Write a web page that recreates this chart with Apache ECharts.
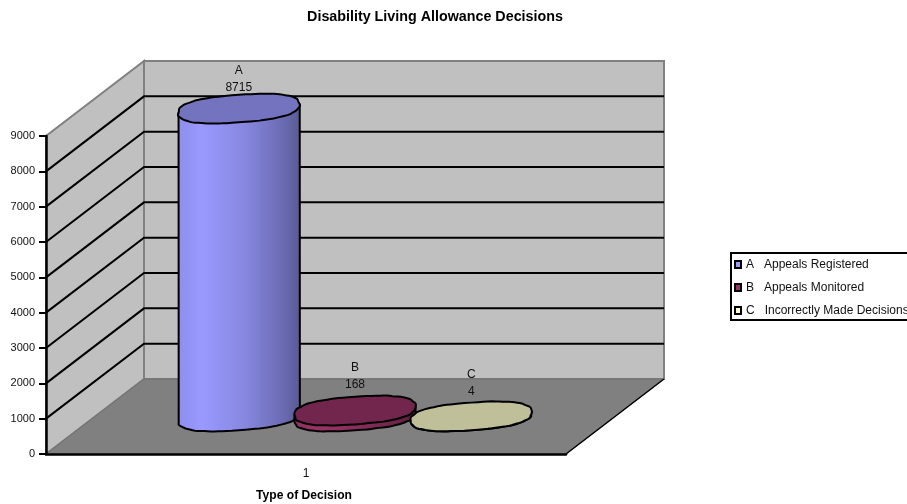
<!DOCTYPE html>
<html>
<head>
<meta charset="utf-8">
<style>html,body{margin:0;padding:0;background:#fff}#chart{width:907px;height:504px}</style>
<script src="https://cdn.jsdelivr.net/npm/echarts@6/dist/echarts.min.js"></script>
</head>
<body>
<div id="chart"></div>
<script>
// Decision counts and labels
const categories = ['1'];
const letters = ['A', 'B', 'C'];
const decisionTypes = ['Appeals Registered', 'Appeals Monitored', 'Incorrectly Made Decisions'];
const decisionCounts = [8715, 168, 4];
const yTicks = [0, 1000, 2000, 3000, 4000, 5000, 6000, 7000, 8000, 9000];

// Base colours of the three cylinders
const baseColors = [[153, 153, 255], [153, 51, 102], [255, 255, 204]];
// Oblique projection of the chart box
const DEPTH_X = 98, DEPTH_Y = -75;
const FONT = '"Liberation Sans", Arial, sans-serif';

const shade = (rgb, f) => `rgb(${rgb.map(c => Math.round(c * f)).join(',')})`;

function wallsItem(params, api) {
  const o = api.coord([0, 0]);
  const w = api.size([1, 0])[0];
  const x0 = o[0] - w / 2, y0 = o[1];
  const yTop = api.coord([0, yTicks[yTicks.length - 1]])[1];
  const poly = (points, fill, stroke, lw) => ({
    type: 'polygon', shape: { points }, style: { fill, stroke, lineWidth: lw }
  });
  const bx = x0 + DEPTH_X, by = y0 + DEPTH_Y, bt = yTop + DEPTH_Y;
  return {
    type: 'group',
    children: [
      poly([[bx, bt], [bx + w, bt], [bx + w, by], [bx, by]], '#c0c0c0', '#808080', 2),
      poly([[x0, y0], [bx, by], [bx, bt], [x0, yTop]], '#c0c0c0', '#808080', 2),
      poly([[x0, y0], [x0 + w, y0], [bx + w, by], [bx, by]], '#808080', '#707070', 1),
      { type: 'line', shape: { x1: x0 + w, y1: y0, x2: bx + w, y2: by }, style: { stroke: '#000', lineWidth: 1.5 } }
    ]
  };
}

function gridLineItem(params, api) {
  const p = api.coord([0, api.value(1)]);
  const w = api.size([1, 0])[0];
  const x0 = p[0] - w / 2, y = p[1];
  const bx = x0 + DEPTH_X, by = y + DEPTH_Y;
  return {
    type: 'polyline',
    shape: { points: [[x0, y], [bx, by], [bx + w, by]] },
    style: { fill: null, stroke: '#000', lineWidth: 2 }
  };
}

// Faceted, slightly uneven and rather full ellipse outline used for the cylinder caps and bases
function rim(cx, cy, a, b, k, seed) {
  const full = v => Math.sign(v) * Math.pow(Math.abs(v), 0.8);
  return t => {
    const r = 1 + 0.006 * Math.sin(11 * t + seed) + 0.005 * Math.sin(19 * t + seed * 2);
    const x = a * r * full(Math.cos(t));
    return [cx + x, cy + b * r * full(Math.sin(t)) + k * x];
  };
}

function cylinderItem(index, labelLift) {
  return (params, api) => {
    const value = api.value(1);
    const band = api.size([1, 0])[0];
    const offset = (index - 1) * band * 0.2235;
    const a = band * 0.1165, b = band * 0.0265, k = -0.07;
    const depthX = DEPTH_X / 2, depthY = DEPTH_Y / 2;
    const base = api.coord([0, 0]);
    const top = api.coord([0, value]);
    const cx = base[0] + offset + depthX;
    const baseY = base[1] + depthY, topY = top[1] + depthY;
    const seed = index * 1.7 + 0.4;
    const topRim = rim(cx, topY, a, b, k, seed);
    const baseRim = rim(cx, baseY, a, b, k, seed + 0.9);
    const steps = 96;
    const capPoints = [];
    for (let i = 0; i < steps; i++) capPoints.push(topRim(i / steps * 2 * Math.PI));
    const sidePoints = [topRim(Math.PI)];
    for (let i = 0; i <= steps / 2; i++) sidePoints.push(baseRim(Math.PI - i / (steps / 2) * Math.PI));
    sidePoints.push(topRim(0));
    const rgb = baseColors[index];
    const sideFill = {
      type: 'linear', x: 0, y: 0, x2: 1, y2: 0,
      colorStops: [
        { offset: 0, color: shade(rgb, 0.93) },
        { offset: 0.2, color: shade(rgb, 1) },
        { offset: 0.55, color: shade(rgb, 0.88) },
        { offset: 0.85, color: shade(rgb, 0.7) },
        { offset: 1, color: shade(rgb, 0.58) }
      ]
    };
    const label = (text, dy) => ({
      type: 'text',
      style: {
        x: cx, y: topY - labelLift + dy, text, fill: '#111', font: '12px ' + FONT,
        textAlign: 'center', textVerticalAlign: 'middle'
      }
    });
    return {
      type: 'group',
      children: [
        { type: 'polygon', shape: { points: sidePoints }, style: { fill: sideFill, stroke: '#000', lineWidth: 2, lineJoin: 'round' } },
        { type: 'polygon', shape: { points: capPoints }, style: { fill: shade(rgb, 0.75), stroke: '#000', lineWidth: 2, lineJoin: 'round' } },
        label(letters[index], -17),
        label(String(value), 0)
      ]
    };
  };
}

// Vertical distance from each cap centre to its value label
const labelLifts = [21, 26, 25];

const seriesNames = letters.map((l, i) => `${l}   ${decisionTypes[i]}`);

const chart = echarts.init(document.getElementById('chart'), null, { renderer: 'canvas' });
chart.setOption({
  animation: false,
  backgroundColor: '#fff',
  textStyle: { fontFamily: FONT },
  title: {
    text: 'Disability Living Allowance Decisions',
    left: 430, top: 5, textAlign: 'center',
    textStyle: { fontSize: 14.3, fontWeight: 'bold', color: '#000', fontFamily: FONT }
  },
  grid: { left: 46, top: 136, width: 520, height: 318, containLabel: false, outerBoundsMode: 'none' },
  xAxis: {
    type: 'category',
    data: categories,
    z: 5,
    axisLine: { lineStyle: { color: '#000', width: 2.5 } },
    axisTick: { length: 7, lineStyle: { color: '#000', width: 2 } },
    axisLabel: { color: '#111', fontSize: 12, margin: 14, fontFamily: FONT },
    name: 'Type of Decision',
    nameLocation: 'middle',
    nameGap: 36,
    nameTextStyle: { fontSize: 12.1, fontWeight: 'bold', color: '#000', fontFamily: FONT, padding: [0, 4, 0, 0] }
  },
  yAxis: {
    type: 'value',
    min: 0, max: 9000, interval: 1000,
    z: 5,
    axisLine: { show: true, lineStyle: { color: '#000', width: 2.5 } },
    axisTick: { show: true, length: 7, lineStyle: { color: '#000', width: 2 } },
    axisLabel: { color: '#111', fontSize: 11, margin: 11, fontFamily: FONT, formatter: v => String(v) },
    splitLine: { show: false }
  },
  legend: {
    orient: 'vertical',
    left: 731, top: 253,
    padding: [4, 30, 2, 3],
    itemWidth: 6, itemHeight: 7, itemGap: 8,
    borderColor: '#000', borderWidth: 2,
    selectedMode: false,
    textStyle: { fontSize: 12, color: '#111', lineHeight: 15, fontFamily: FONT },
    data: seriesNames.map((name, i) => ({
      name, icon: 'rect',
      itemStyle: { color: shade(baseColors[i], 1), borderColor: '#000', borderWidth: 2 }
    }))
  },
  series: [
    { type: 'custom', name: 'walls', z: 1, silent: true, renderItem: wallsItem, data: [[0, 0]] },
    { type: 'custom', name: 'gridlines', z: 1, silent: true, renderItem: gridLineItem, data: yTicks.slice(1, -1).map(v => [0, v]) },
    ...decisionCounts.map((v, i) => ({
      type: 'custom', name: seriesNames[i], z: 3 + i,
      itemStyle: { color: shade(baseColors[i], 1) },
      renderItem: cylinderItem(i, labelLifts[i]),
      data: [[0, v]]
    }))
  ]
});
</script>
</body>
</html>
